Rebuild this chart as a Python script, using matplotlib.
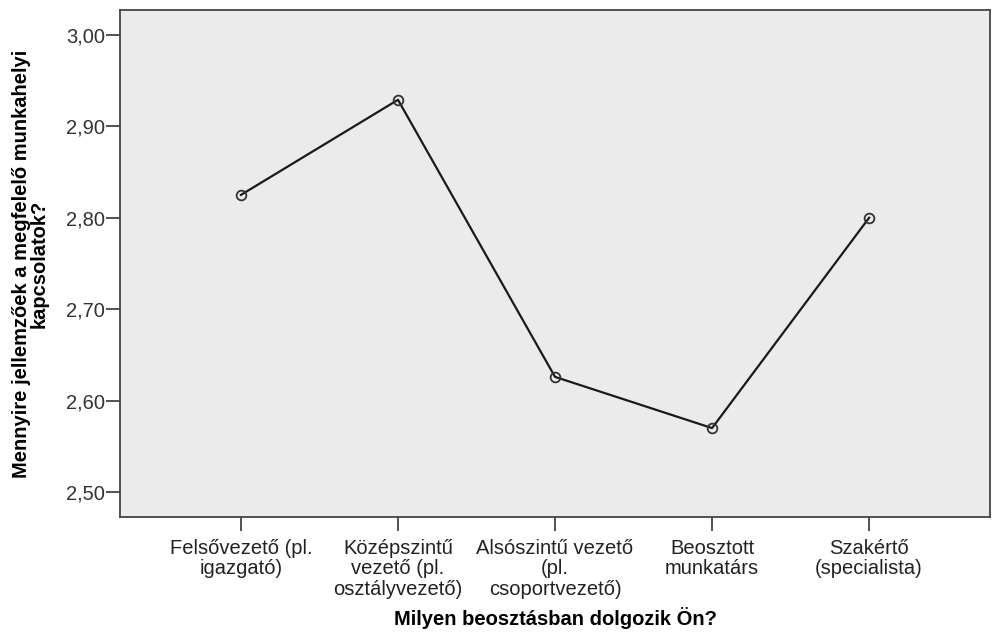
import matplotlib.pyplot as plt

plt.rcParams['font.family'] = ['Liberation Sans', 'DejaVu Sans']

categories = [
    "Felsővezető (pl.\nigazgató)",
    "Középszintű\nvezető (pl.\nosztályvezető)",
    "Alsószintű vezető\n(pl.\ncsoportvezető)",
    "Beosztott\nmunkatárs",
    "Szakértő\n(specialista)",
]
means = [2.825, 2.929, 2.626, 2.570, 2.800]
yticks = [2.50, 2.60, 2.70, 2.80, 2.90, 3.00]

fig = plt.figure(figsize=(9.96, 6.36), dpi=100)
ax = fig.add_axes([0.1205, 0.187, 0.8735, 0.797])
ax.set_facecolor('#ebebeb')

x = list(range(len(categories)))
ax.plot(x, means, color='#1a1a1a', linewidth=1.6, marker='o', markersize=7,
        markerfacecolor='none', markeredgecolor='#333333', markeredgewidth=1.3)

ax.set_xlim(-0.77, 4.77)
ax.set_ylim(2.4727, 3.027)
ax.set_xticks(x)
ax.set_xticklabels(categories, fontsize=14.5, color='#222222', linespacing=1.08)
ax.set_yticks(yticks)
ax.set_yticklabels([f"{v:.2f}".replace('.', ',') for v in yticks], fontsize=14.5, color='#333333')
ax.tick_params(direction='out', length=10, width=1.2, color='#333333', pad=1)
ax.tick_params(axis='x', pad=6)

for s in ax.spines.values():
    s.set_color('#444444')
    s.set_linewidth(1.3)

ax.set_xlabel("Milyen beosztásban dolgozik Ön?", fontsize=14.5, fontweight='bold', labelpad=6)
ax.set_ylabel("Mennyire jellemzőek a megfelelő munkahelyi\nkapcsolatok?", fontsize=14.5,
              fontweight='bold', labelpad=12, linespacing=0.95)

fig.savefig('out.png', dpi=100)
